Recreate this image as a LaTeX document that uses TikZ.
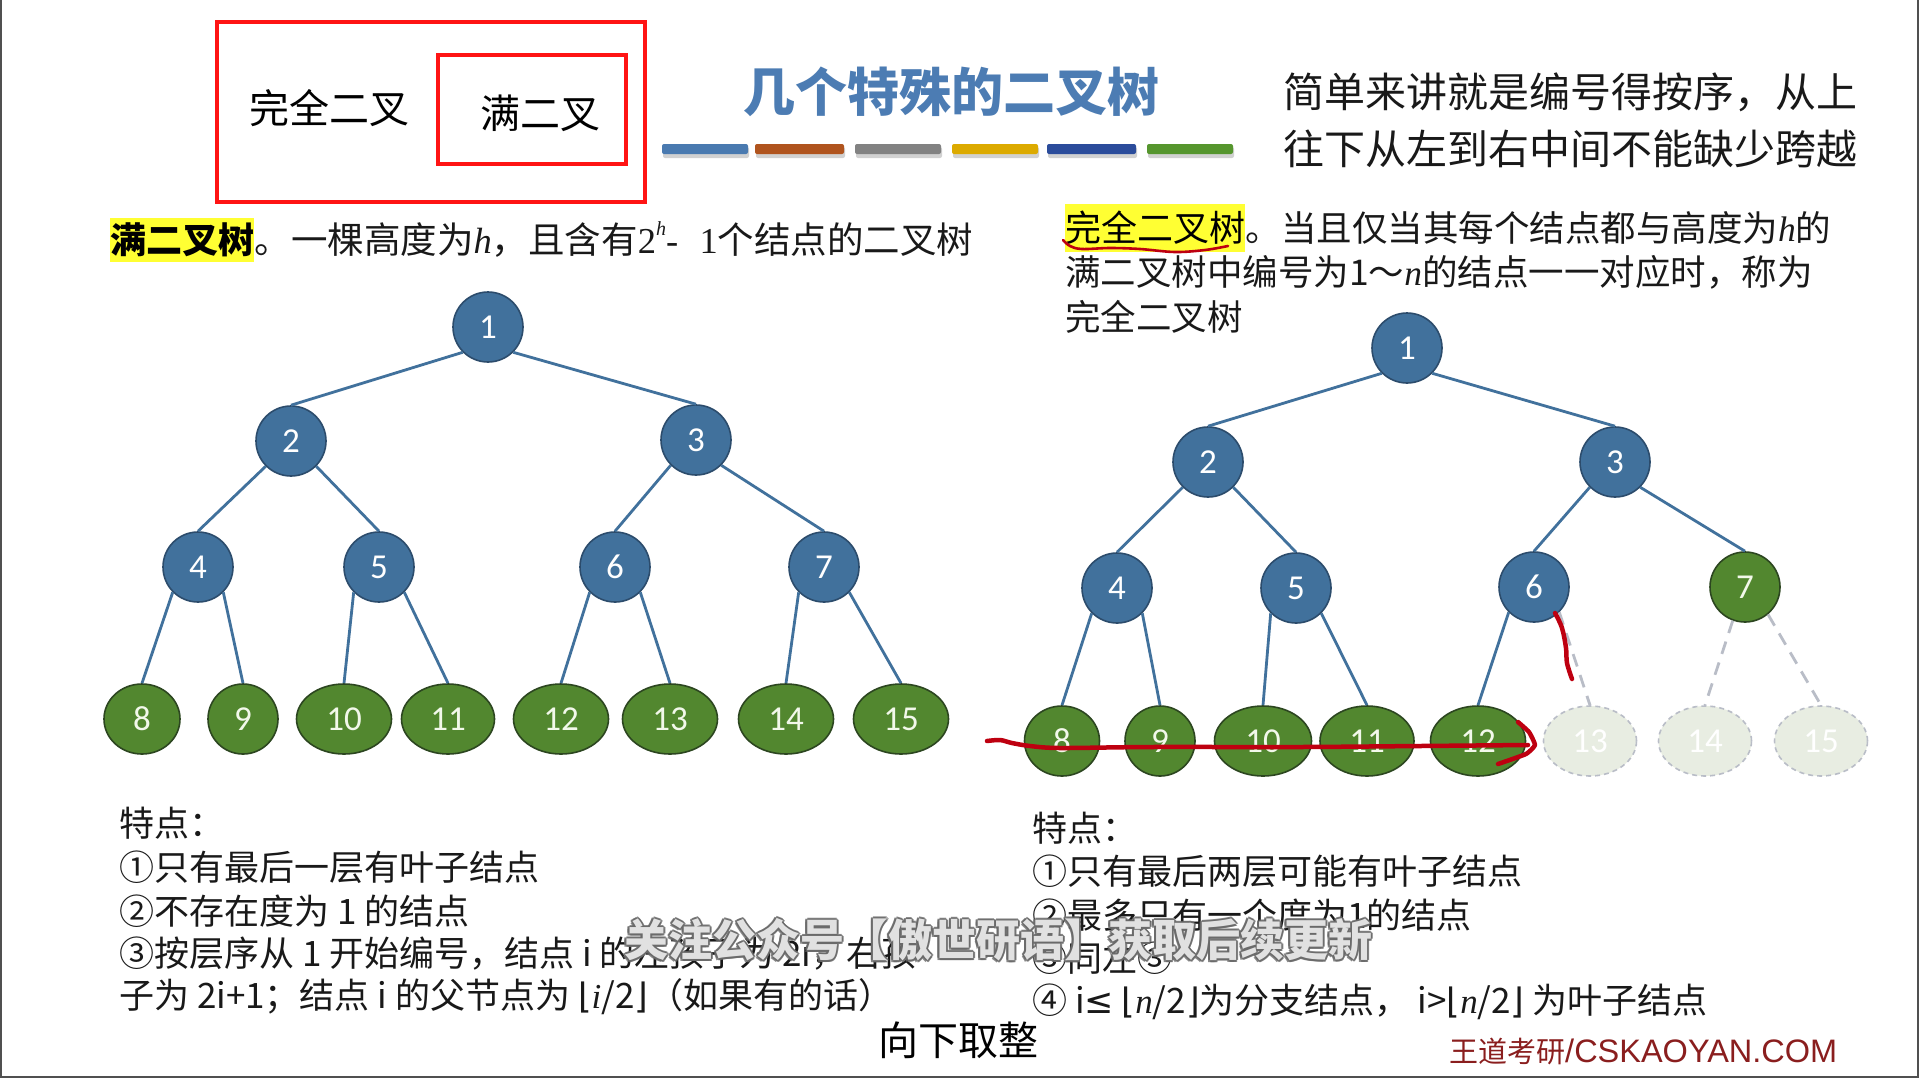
\documentclass[tikz,border=0pt]{standalone}
\usepackage{fontspec}
\setmainfont{Noto Sans CJK SC}
\newfontfamily\numfont{Carlito}
\newfontfamily\tnr{Liberation Serif}
\newfontfamily\symfont{DejaVu Sans}
\newfontfamily\latinsans{Liberation Sans}
\usetikzlibrary{shapes.geometric}

\definecolor{nodeblue}{HTML}{41719C}
\definecolor{nodeblueline}{HTML}{2C4C6C}
\definecolor{leafgreen}{HTML}{52872F}
\definecolor{leafline}{HTML}{2C4620}
\definecolor{leaftext}{HTML}{F2F8EA}
\definecolor{ghostfill}{HTML}{E8EDE2}
\definecolor{ghostline}{HTML}{B9BDC7}
\definecolor{penred}{HTML}{BE0010}
\definecolor{boxred}{HTML}{FF1414}
\definecolor{titleblue}{HTML}{4C7CB3}
\definecolor{hlyellow}{HTML}{FFFF33}
\definecolor{brandred}{HTML}{8A1E1E}
\definecolor{barA}{HTML}{4A7AB0}
\definecolor{barB}{HTML}{B0541E}
\definecolor{barC}{HTML}{828282}
\definecolor{barD}{HTML}{DCAA00}
\definecolor{barE}{HTML}{2B4C9B}
\definecolor{barF}{HTML}{56962E}
\definecolor{framegray}{HTML}{505050}
\definecolor{captionedge}{HTML}{6A6A6A}

\newcommand{\itv}[1]{{\tnr\itshape #1}}
\newcommand{\flrbr}[1]{{\symfont ⌊}#1{\symfont ⌋}}
% caption text with a thin grey outline built from offset copies
\newcommand{\captiontext}{关注公众号【傲世研语】获取后续更新}
\newcommand{\capcopy}[2]{\rlap{\kern#1\raisebox{#2}{\textcolor{captionedge}{\captiontext}}}}
\newcommand{\outlinedcaption}{%
  \capcopy{-2pt}{0pt}\capcopy{2pt}{0pt}\capcopy{0pt}{2pt}\capcopy{0pt}{-2pt}%
  \capcopy{-1.5pt}{1.5pt}\capcopy{1.5pt}{1.5pt}\capcopy{-1.5pt}{-1.5pt}\capcopy{1.5pt}{-1.5pt}%
  \textcolor{white}{\captiontext}}

\tikzset{
  inner/.style={circle, minimum size=70pt, inner sep=0pt, fill=nodeblue,
    draw=nodeblueline, line width=1.6pt, text=white,
    font=\numfont\fontsize{35pt}{35pt}\selectfont},
  leaf/.style={ellipse, minimum height=70pt, minimum width=95pt, inner sep=0pt,
    fill=leafgreen, draw=leafline, line width=1.6pt, text=leaftext,
    font=\numfont\fontsize{35pt}{35pt}\selectfont},
  greenround/.style={inner, fill=leafgreen, draw=leafline, text=leaftext},
  ghost/.style={leaf, fill=ghostfill, draw=ghostline, dash pattern=on 5pt off 4pt, text=white},
  link/.style={draw=nodeblue, line width=2.8pt},
  ghostlink/.style={draw=ghostline, line width=2.8pt, dash pattern=on 13pt off 9pt},
  pen/.style={draw=penred, line width=4.5pt, line cap=round, line join=round},
  body/.style={anchor=west, inner sep=0pt, text=black!90,
    font=\fontsize{35pt}{35pt}\selectfont},
  hlword/.style={anchor=west, inner xsep=0pt, inner ysep=5pt, fill=hlyellow,
    text=black, font=\fontsize{36pt}{36pt}\selectfont},
  bar/.style={rounded corners=2pt},
  barshadow/.style={rounded corners=2pt, fill=black, opacity=0.18},
  wm/.style={inner sep=0pt, font=\fontsize{44pt}{44pt}\selectfont\bfseries},
}

\begin{document}
\begin{tikzpicture}[x=1pt, y=-1pt]
\useasboundingbox (0,0) rectangle (1920,1080);
\fill[white] (0,0) rectangle (1920,1080);

% screen frame
\draw[framegray, line width=2pt] (1,0) -- (1,1077) -- (1918,1077) -- (1918,0);

% nested red boxes
\draw[boxred, line width=4pt] (217,22) rectangle (645,202);
\draw[boxred, line width=4pt] (438,55) rectangle (626,164);
\node[inner sep=0pt, font=\fontsize{40pt}{40pt}\selectfont] (wq) at (329,108) {完全二叉};
\node[inner sep=0pt, font=\fontsize{40pt}{40pt}\selectfont] (wm1) at (540,113) {满二叉};

% title and colour strip
\node[inner sep=0pt, text=titleblue, font=\fontsize{52pt}{52pt}\selectfont\bfseries] (title) at (951,92) {几个特殊的二叉树};
\foreach \xa/\xb/\c in {662/748/barA, 755/844/barB, 855/941/barC, 952/1038/barD, 1047/1136/barE, 1147/1233/barF}{
  \fill[barshadow] (\xa+1,147) rectangle (\xb+1,158);
  \fill[bar, \c] (\xa,144) rectangle (\xb,154);
}

% remark, top right
\node[body, font=\fontsize{41pt}{41pt}\selectfont] (r1) at (1283,92) {简单来讲就是编号得按序，从上};
\node[body, font=\fontsize{41pt}{41pt}\selectfont] (r2) at (1283,149) {往下从左到右中间不能缺少跨越};

% definition: full binary tree
\node[hlword, font=\fontsize{36pt}{36pt}\selectfont\bfseries] (defL) at (110,240) {满二叉树};
\node[body, anchor=base west, font=\fontsize{36.5pt}{36.5pt}\selectfont] (defLt) at (defL.base east)
  {。一棵高度为\itv{h}，且含有{\tnr 2}\raisebox{0.5em}{\fontsize{20pt}{20pt}\selectfont\itv{h}}{\tnr -\,\, 1}个结点的二叉树};

% definition: complete binary tree
\node[hlword, inner ysep=7pt] (defR) at (1065,228) {完全二叉树};
\node[body, anchor=base west, font=\fontsize{35.5pt}{35.5pt}\selectfont] (defRt1) at (defR.base east)
  {。当且仅当其每个结点都与高度为\itv{h}的};
\node[body, font=\fontsize{35.5pt}{35.5pt}\selectfont] (defRt2) at (1065,272) {满二叉树中编号为1～\itv{n}的结点一一对应时，称为};
\node[body, font=\fontsize{35.5pt}{35.5pt}\selectfont] (defRt3) at (1065,317) {完全二叉树};

% ---------- full binary tree ----------
\node[inner] (a1) at (488,327) {1};
\node[inner] (a2) at (291,441) {2};
\node[inner] (a3) at (696,440) {3};
\node[inner] (a4) at (198,567) {4};
\node[inner] (a5) at (379,567) {5};
\node[inner] (a6) at (615,567) {6};
\node[inner] (a7) at (824,567) {7};
\node[leaf, minimum width=76pt] (a8) at (142,719) {8};
\node[leaf, minimum width=70pt] (a9) at (243,719) {9};
\node[leaf] (a10) at (344,719) {10};
\node[leaf, minimum width=93pt] (a11) at (448,719) {11};
\node[leaf] (a12) at (561,719) {12};
\node[leaf] (a13) at (670,719) {13};
\node[leaf] (a14) at (786,719) {14};
\node[leaf] (a15) at (901,719) {15};
\foreach \p/\l/\r in {a1/a2/a3, a2/a4/a5, a3/a6/a7, a4/a8/a9, a5/a10/a11, a6/a12/a13, a7/a14/a15}{
  \draw[link] (\p.south west) -- (\l.north);
  \draw[link] (\p.south east) -- (\r.north);
}

% ---------- complete binary tree ----------
\node[inner] (b1) at (1407,348) {1};
\node[inner] (b2) at (1208,462) {2};
\node[inner] (b3) at (1615,462) {3};
\node[inner] (b4) at (1117,588) {4};
\node[inner] (b5) at (1296,588) {5};
\node[inner] (b6) at (1534,587) {6};
\node[greenround] (b7) at (1745,587) {7};
\node[leaf, minimum width=75pt] (b8) at (1062,741) {8};
\node[leaf, minimum width=70pt] (b9) at (1160,741) {9};
\node[leaf, minimum width=97pt] (b10) at (1263,741) {10};
\node[leaf, minimum width=94pt] (b11) at (1367,741) {11};
\node[leaf] (b12) at (1478,741) {12};
\node[ghost, minimum width=93pt] (b13) at (1590,741) {13};
\node[ghost, minimum width=93pt] (b14) at (1705,741) {14};
\node[ghost, minimum width=93pt] (b15) at (1821,741) {15};
\foreach \p/\l/\r in {b1/b2/b3, b2/b4/b5, b4/b8/b9, b5/b10/b11}{
  \draw[link] (\p.south west) -- (\l.north);
  \draw[link] (\p.south east) -- (\r.north);
}
\draw[link] (b3.south west) -- (b6.north);
\draw[link] (b3.south east) -- (b7.north);
\draw[link] (b6.south west) -- (b12.north);
\draw[ghostlink] (b6.south east) -- (b13.north);
\draw[ghostlink] (b7.250) -- (b14.north);
\draw[ghostlink] (b7.310) -- (b15.north);

% ---------- properties ----------
\node[body] (fl0) at (119,823) {特点：};
\node[body] (fl1) at (119,867) {①只有最后一层有叶子结点};
\node[body] (fl2) at (119,911) {②不存在度为 1 的结点};
\node[body] (fl3) at (119,954) {③按层序从 1 开始编号，结点 i 的左孩子为 2i，右孩};
\node[body] (fl4) at (119,997) {子为 2i+1；结点 i 的父节点为 \flrbr{\itv{i}/2}（如果有的话）};

\node[body] (cl0) at (1032,828) {特点：};
\node[body] (cl1) at (1032,871) {①只有最后两层可能有叶子结点};
\node[body] (cl2) at (1032,915) {②最多只有一个度为1的结点};
\node[body] (cl3) at (1032,958) {③同左③};
\node[body] (cl4) at (1032,1002) {④ i{\symfont ≤} \flrbr{\itv{n}/2}为分支结点， i>\flrbr{\itv{n}/2} 为叶子结点};

\node[inner sep=0pt, font=\fontsize{40pt}{40pt}\selectfont] (note) at (958,1040) {向下取整};
\node[anchor=west, inner sep=0pt, text=brandred] (brand) at (1449,1051)
  {{\fontsize{29pt}{29pt}\selectfont 王道考研}{\latinsans\fontsize{32.5pt}{32.5pt}\selectfont /CSKAOYAN.COM}};

% ---------- pen annotations ----------
\draw[pen, line width=2.6pt] plot[smooth, tension=0.6] coordinates
  {(1063,240) (1070,246) (1082,249) (1110,248) (1140,249) (1175,252) (1205,250) (1228,246)};
\draw[pen] plot[smooth, tension=0.5] coordinates
  {(987,741) (1000,740) (1012,743) (1030,746) (1060,748) (1150,747) (1300,747) (1420,746) (1528,745)};
\draw[pen] plot[smooth, tension=0.25] coordinates
  {(1518,722) (1529,732) (1535,745) (1526,754) (1498,764)};
\draw[pen] plot[smooth, tension=0.6] coordinates
  {(1555,613) (1562,628) (1566,648) (1567,663) (1572,679)};

% ---------- caption overlay ----------
\node[wm, opacity=0.8] (caption) at (998,940) {\outlinedcaption};
\end{tikzpicture}
\end{document}
